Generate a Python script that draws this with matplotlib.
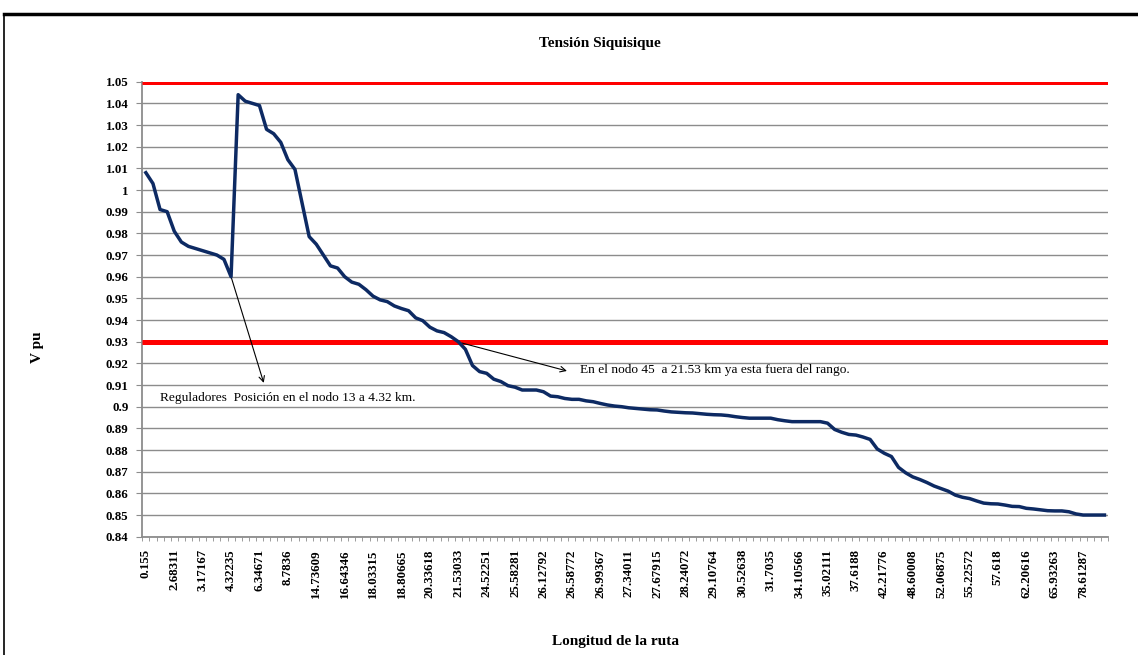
import numpy as np
import matplotlib
matplotlib.use("Agg")
import matplotlib.pyplot as plt
from matplotlib.lines import Line2D
from matplotlib.ticker import FixedLocator, FuncFormatter

# Datos (tension en p.u. por nodo)
x_labels = ["0.155", "2.68311", "3.17167", "4.32235", "6.34671", "8.7836",
            "14.73609", "16.64346", "18.03315", "18.80665", "20.33618", "21.53033",
            "24.52251", "25.58281", "26.12792", "26.58772", "26.99367", "27.34011",
            "27.67915", "28.24072", "29.10764", "30.52638", "31.7035", "34.10566",
            "35.02111", "37.6188", "42.21776", "48.60008", "52.06875", "55.22572",
            "57.618", "62.20616", "65.93263", "78.61287"]
label_step = 4

voltage = [1.008, 1.003, 0.991, 0.990, 0.981, 0.976, 0.974, 0.973, 0.972, 0.971,
           0.970, 0.968, 0.960, 1.044, 1.041, 1.040, 1.039, 1.028, 1.026, 1.022,
           1.014, 1.0095, 0.994, 0.9785, 0.975, 0.970, 0.965, 0.964, 0.960, 0.9575,
           0.9565, 0.954, 0.951, 0.9493, 0.9485, 0.9465, 0.9453, 0.9443, 0.941, 0.9397,
           0.9367, 0.935, 0.9342, 0.9323, 0.930, 0.9265, 0.919, 0.9162, 0.9154, 0.9127,
           0.9116, 0.9097, 0.909, 0.9077, 0.9077, 0.9077, 0.9069, 0.9049, 0.9046, 0.9038,
           0.9034, 0.9034, 0.9027, 0.9023, 0.9015, 0.9008, 0.9003, 0.9000, 0.8995, 0.8992,
           0.8989, 0.8986, 0.8985, 0.8980, 0.8976, 0.8974, 0.8972, 0.8971, 0.8968, 0.8965,
           0.8963, 0.8962, 0.8959, 0.8954, 0.8950, 0.8947, 0.8947, 0.8947, 0.8947, 0.8940,
           0.8935, 0.8931, 0.8931, 0.8931, 0.8931, 0.8931, 0.8924, 0.8895, 0.8882, 0.8872,
           0.8869, 0.8860, 0.8849, 0.8805, 0.8785, 0.8770, 0.8720, 0.8695, 0.8676, 0.8664,
           0.8650, 0.8634, 0.8622, 0.8610, 0.8592, 0.8582, 0.8576, 0.8565, 0.8555, 0.8552,
           0.8551, 0.8546, 0.8540, 0.8539, 0.8531, 0.8528, 0.8524, 0.8520, 0.8519, 0.8519,
           0.8515, 0.8505, 0.8500, 0.8500, 0.8500, 0.8500]

limite_sup = 1.05
limite_inf = 0.93

plt.rcParams['font.family'] = ['Liberation Serif', 'DejaVu Serif']

n = len(voltage)
x = np.arange(n)

fig = plt.figure(figsize=(11.38, 6.55), dpi=100)
ax = fig.add_axes([142.3 / 1138, 1 - 536.7 / 655, (1108 - 142.3) / 1138, (536.7 - 81.7) / 655])

# Limites de tension y perfil
ax.axhline(limite_sup, color='#ff0000', linewidth=3.6, solid_capstyle='butt', zorder=3)
ax.axhline(limite_inf, color='#ff0000', linewidth=3.6, solid_capstyle='butt', zorder=3)
ax.plot(x, voltage, color='#0d2a63', linewidth=2.5, solid_joinstyle='round', zorder=4)

ax.set_xlim(-0.5, n - 0.5)
ax.set_ylim(0.84, 1.05)

yt = np.round(np.arange(0.84, 1.0501, 0.01), 2)
ax.yaxis.set_major_locator(FixedLocator(yt))
ax.yaxis.set_major_formatter(FuncFormatter(lambda v, p: f"{v:.2f}".rstrip('0').rstrip('.')))
ax.grid(axis='y', color='#8c8c8c', linewidth=1.0)
ax.set_axisbelow(True)

ax.set_xticks(x[::label_step][:len(x_labels)])
ax.set_xticklabels(x_labels, rotation=90)
ax.set_xticks(np.arange(-0.5, n, 1), minor=True)
ax.tick_params(axis='x', which='major', length=0, pad=9)
ax.tick_params(axis='x', which='minor', length=3, color='#8c8c8c')
ax.tick_params(axis='y', length=4, color='#8c8c8c', pad=6)
for lab in ax.get_xticklabels() + ax.get_yticklabels():
    lab.set_fontweight('bold')
    lab.set_fontsize(9.3)

for s in ['top', 'right']:
    ax.spines[s].set_visible(False)
for s in ['left', 'bottom']:
    ax.spines[s].set_color('#8c8c8c')
    ax.spines[s].set_linewidth(1.3)

# Anotaciones
ax.annotate("", xy=(16.6, 0.911), xytext=(12, 0.960),
            arrowprops=dict(arrowstyle='->', color='black', lw=0.8, shrinkA=0, shrinkB=0))
ax.text(2.0, 0.904, "Reguladores  Posición en el nodo 13 a 4.32 km.",
        fontsize=9.6, ha='left', va='center')
ax.annotate("", xy=(59.3, 0.9165), xytext=(44.5, 0.9294),
            arrowprops=dict(arrowstyle='->', color='black', lw=0.8, shrinkA=0, shrinkB=0))
ax.text(61.1, 0.917, "En el nodo 45  a 21.53 km ya esta fuera del rango.",
        fontsize=9.6, ha='left', va='center')

# Titulos
fig.text(600 / 1138, 1 - 43 / 655, "Tensión Siquisique", fontsize=11,
         fontweight='bold', ha='center', va='center')
fig.text(615 / 1138, 1 - 641 / 655, "Longitud de la ruta", fontsize=11,
         fontweight='bold', ha='center', va='center')
fig.text(38 / 1138, 1 - 347 / 655, "V pu", fontsize=11, fontweight='bold',
         rotation=90, ha='center', va='center')

# Marco del area del grafico
fig.add_artist(Line2D([4 / 1138, 1], [1 - 14 / 655, 1 - 14 / 655], color='black', linewidth=2.5))
fig.add_artist(Line2D([4 / 1138, 4 / 1138], [0, 1 - 14 / 655], color='black', linewidth=1.2))

fig.savefig("out.png", dpi=100)
